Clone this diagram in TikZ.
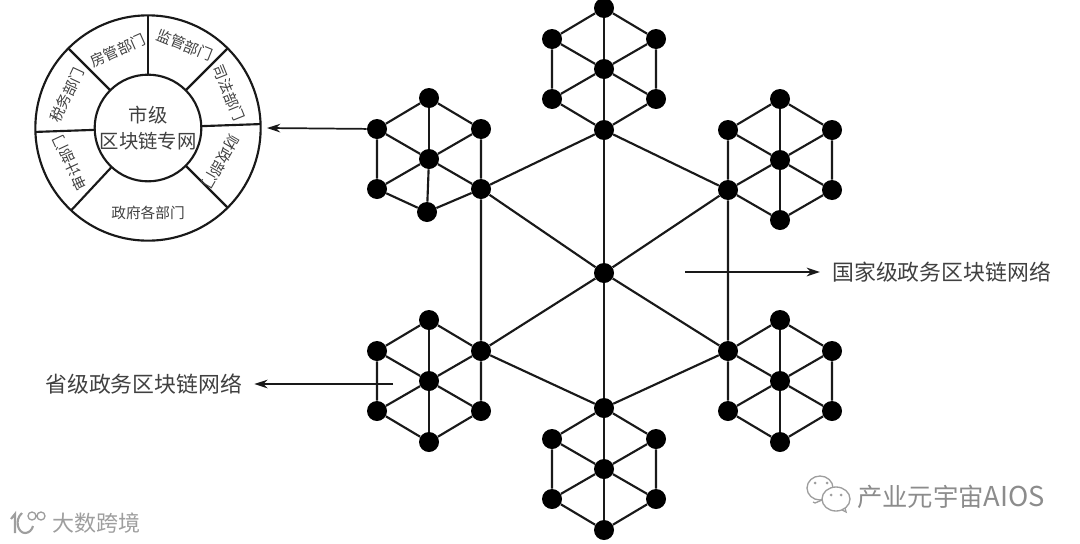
\documentclass[tikz,border=0pt]{standalone}
\usepackage{fontspec}
\setmainfont{Noto Sans CJK SC}
\usetikzlibrary{arrows.meta}
\tikzset{
    dot/.style={circle, fill=black, inner sep=0pt, minimum size=15pt},
    link/.style={line width=1.6pt, black!90},
    pointer/.style={line width=1.3pt, black!90, -{Stealth[length=10pt, width=6.5pt]}},
    dept/.style={font=\fontsize{11}{12}\selectfont, text=black!75, inner sep=0pt},
    caption/.style={font=\fontsize{16.4}{18}\selectfont, text=black!75, inner sep=0pt},
    mark text/.style={inner sep=0pt, text=black!38},
    mark line/.style={draw=black!38, line width=1pt}
}

\begin{document}
\begin{tikzpicture}[x=0.75pt, y=-0.75pt]
            \useasboundingbox (0,0) rectangle (1080,543);
            % six provincial clusters
            \foreach \name/\cx/\cy/\ex/\ey in {top/604/69/0/61, upl/429/159/-2/53, upr/780/160/0/60, lol/429/381/0/61, lor/780/381/0/61, bot/604/469/0/61} {
                \node[dot] (\name-c) at (\cx,\cy) {};
                \node[dot] (\name-t) at (\cx,\cy-61) {};
                \node[dot] (\name-l) at (\cx-52,\cy-30) {};
                \node[dot] (\name-r) at (\cx+52,\cy-30) {};
                \node[dot] (\name-a) at (\cx-52,\cy+30) {};
                \node[dot] (\name-b) at (\cx+52,\cy+30) {};
                \node[dot] (\name-e) at (\cx+\ex,\cy+\ey) {};
                \foreach \i in {t,l,r,a,b,e}
                    \draw[link] (\name-c) -- (\name-\i);
                \draw[link] (\name-t) -- (\name-l) -- (\name-a) -- (\name-e) -- (\name-b) -- (\name-r) -- (\name-t);
            }
            % national network
            \node[dot] (nat) at (604,273) {};
            \foreach \i in {top-e, upl-b, upr-a, lol-r, lor-l, bot-t}
                \draw[link] (nat) -- (\i);
            \draw[link] (top-e) -- (upl-b) -- (lol-r) -- (bot-t) -- (lor-l) -- (upr-a) -- (top-e);
            % city ring
            \node[circle, draw, link, fill=white, inner sep=0pt, outer sep=0pt, minimum size=169pt] (ring) at (148,128) {};
            \node[circle, draw, link, fill=white, inner sep=0pt, outer sep=0pt, minimum size=80pt, align=center, text=black!75,
                font=\fontsize{14.5}{19.5}\selectfont] (hub) at (148,128) {市级\\区块链专网};
            \foreach \a in {90, 45, 2, -45, -133, 182, 135}
                \draw[link] (hub.\a) -- (ring.\a);
            \node[dept, rotate=24] (fang) at (118,50) {房管部门};
            \node[dept, rotate=-22] (jian) at (185,45) {监管部门};
            \node[dept, rotate=-68] (sifa) at (229,93) {司法部门};
            \node[dept, rotate=-120] (cai) at (221,162) {财政部门};
            \node[dept] (gov) at (148,213) {政府各部门};
            \node[dept, rotate=115] (shen) at (70,163) {审计部门};
            \node[dept, rotate=65] (shui) at (67,95) {税务部门};
            % labels and pointers
            \coordinate (citytip) at (267,128);
            \draw[pointer] (upl-l) -- (citytip);
            \node[caption, anchor=west] (natlabel) at (832,272) {国家级政务区块链网络};
            \coordinate (natstart) at (685,272);
            \draw[pointer] (natstart) -- ([xshift=-9pt]natlabel.west);
            \node[caption, anchor=west] (provlabel) at (45,384) {省级政务区块链网络};
            \coordinate (provstart) at (393,384);
            \draw[pointer] (provstart) -- ([xshift=9pt]provlabel.east);
            % watermarks
            \node[mark text, anchor=west, font=\fontsize{16.5}{18}\selectfont] (markleft) at (52,523) {大数跨境};
            \draw[mark line, line width=1.6pt] (11,519) -- (15,514) -- (15,533);
            \draw[mark line, line width=1.6pt] (22,513) .. controls (14,520) and (18,533) .. (25,533) .. controls (29,533) and (32,530) .. (33,526);
            \draw[mark line] (32,516) circle (4) (41,516) circle (4);
            \node[mark text, anchor=west, font=\fontsize{19}{21}\selectfont, text=black!45] (markright) at (857,497) {产业元宇宙{\fontsize{20.5}{21}\selectfont AIOS}};
            \draw[mark line] (820,488) ellipse (13 and 12);
            \draw[mark line, fill=white] (836,499) ellipse (14 and 12);
            \draw[mark line] (813,502) -- (815,503) -- (822,500);
            \draw[mark line] (842,510) -- (846,512) -- (845,508);
            \fill[black!38] (815,483) circle (1.5) (827,483) circle (1.5) (831,495) circle (1.5) (841,495) circle (1.5);
\end{tikzpicture}
\end{document}
